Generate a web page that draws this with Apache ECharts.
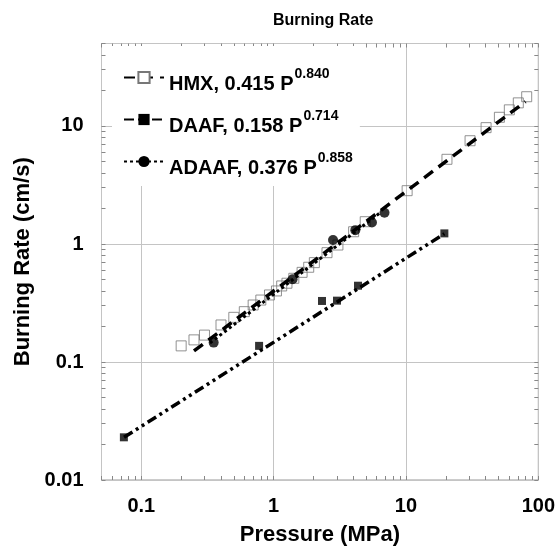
<!DOCTYPE html>
<html><head><meta charset="utf-8">
<script src="https://cdn.jsdelivr.net/npm/echarts@6/dist/echarts.min.js"></script>
<style>html,body{margin:0;padding:0;background:#fff}#c{width:558px;height:551px}</style>
</head><body><div id="c"></div>
<script>
// ---- data ----
const seriesNames = ['HMX', 'DAAF', 'ADAAF'];
const fitCoef = ['0.415', '0.158', '0.376'];
const fitExp = ['0.840', '0.714', '0.858'];

const hmxP = [0.2,0.25,0.3,0.4,0.5,0.6,0.7,0.8,0.93,1.05,1.15,1.26,1.42,1.64,1.84,2.03,2.53,3.06,4.02,4.92,10.2,20.4,30.5,40.3,50.8,60.4,70.6,81.7];
const hmxR = [0.137,0.154,0.169,0.206,0.239,0.267,0.304,0.335,0.370,0.400,0.441,0.465,0.512,0.575,0.635,0.695,0.844,0.98,1.27,1.545,2.83,5.22,7.5,9.68,11.85,13.7,15.7,17.7];
const daafP = [0.0738,0.776,2.32,3.01,4.34,19.5];
const daafR = [0.023,0.137,0.329,0.331,0.443,1.23];
const adaafP = [0.352,1.39,2.81,4.14,5.53,6.88];
const adaafR = [0.146,0.502,1.08,1.31,1.52,1.84];

const hmxFitP = [0.25, 80];
const hmxFitR = [0.124, 16.1];
const daafFitP = [0.074, 19.5];
const daafFitR = [0.023, 1.22];
const adaafFitP = [0.33, 6.5];
const adaafFitR = [0.145, 1.87];

const xDecades = [0.1, 1, 10, 100];
const yDecades = [0.01, 0.1, 1, 10];
const xTickValues = [0.05,0.06,0.07,0.08,0.09,0.1,0.2,0.3,0.4,0.5,0.6,0.7,0.8,0.9,1,2,3,4,5,6,7,8,9,10,20,30,40,50,60,70,80,90,100];
const yTickValues = [0.01,0.02,0.03,0.04,0.05,0.06,0.07,0.08,0.09,0.1,0.2,0.3,0.4,0.5,0.6,0.7,0.8,0.9,1,2,3,4,5,6,7,8,9,10,20,30,40,50];

const zip = (a, b) => a.map((v, i) => [v, b[i]]);
const FONT = '"Liberation Sans", Arial, sans-serif';
const decadeFmt = list => v => { for (const d of list) { if (Math.abs(v / d - 1) < 1e-6) return String(d); } return ''; };

const tickAxis = (pos, min, max, ticks) => ({
  type: 'log', position: pos, min: min, max: max, gridIndex: 0,
  axisLine: {show: false}, axisLabel: {show: false}, splitLine: {show: false},
  axisTick: {show: true, inside: true, length: 4, customValues: ticks, lineStyle: {color: '#888', width: 1}}
});

const chart = echarts.init(document.getElementById('c'), null, {renderer: 'canvas'});
chart.setOption({
  backgroundColor: '#fff',
  animation: false,
  title: {
    text: 'Burning Rate', left: 268, top: 8,
    textStyle: {fontFamily: FONT, fontSize: 16, fontWeight: 'bold', color: '#000'}
  },
  grid: {left: 101.5, right: 19.5, top: 43.5, bottom: 71, show: true, borderColor: '#999', borderWidth: 1, backgroundColor: 'transparent'},
  xAxis: [
    {
      type: 'log', min: 0.05, max: 100, position: 'bottom',
      name: 'Pressure (MPa)', nameLocation: 'middle', nameGap: 44,
      nameTextStyle: {fontFamily: FONT, fontSize: 22, fontWeight: 'bold', color: '#000'},
      axisLine: {show: false}, axisTick: {show: false},
      axisLabel: {formatter: decadeFmt(xDecades), margin: 16, fontFamily: FONT, fontSize: 20, fontWeight: 'bold', color: '#000', showMinLabel: true, showMaxLabel: true},
      splitLine: {show: true, lineStyle: {color: '#c4c4c4', width: 1}}
    },
    tickAxis('bottom', 0.05, 100, xTickValues),
    tickAxis('top', 0.05, 100, xTickValues)
  ],
  yAxis: [
    {
      type: 'log', min: 0.01, max: 50, position: 'left',
      name: 'Burning Rate (cm/s)', nameLocation: 'middle', nameGap: 68, nameRotate: 90,
      nameTextStyle: {fontFamily: FONT, fontSize: 22, fontWeight: 'bold', color: '#000'},
      axisLine: {show: false}, axisTick: {show: false},
      axisLabel: {formatter: decadeFmt(yDecades), margin: 18, fontFamily: FONT, fontSize: 20, fontWeight: 'bold', color: '#000'},
      splitLine: {show: true, lineStyle: {color: '#c4c4c4', width: 1}}
    },
    tickAxis('left', 0.01, 50, yTickValues),
    tickAxis('right', 0.01, 50, yTickValues)
  ],
  legend: {
    data: seriesNames,
    orient: 'vertical', left: 112, top: 46,
    padding: [15, 7, 8, 11],
    itemWidth: 40, itemHeight: 14, itemGap: 9,
    backgroundColor: '#fff',
    formatter: name => {
      const i = seriesNames.indexOf(name);
      return '{m|' + name + ', ' + fitCoef[i] + ' P}{s|' + fitExp[i] + '}';
    },
    textStyle: {
      fontFamily: FONT, color: '#000',
      rich: {
        m: {fontFamily: FONT, fontSize: 20, fontWeight: 'bold', color: '#000', lineHeight: 22, padding: [13, 0, 0, 0]},
        s: {fontFamily: FONT, fontSize: 14, fontWeight: 'bold', color: '#000', lineHeight: 16, padding: [6, 0, 13, 1]}
      }
    }
  },
  series: [
    {
      name: '_hmxPts', type: 'scatter', z: 1, data: zip(hmxP, hmxR),
      symbol: 'rect', symbolSize: 10,
      itemStyle: {color: 'rgba(255,255,255,0)', borderColor: '#777', borderWidth: 1}
    },
    {
      name: 'HMX', type: 'line', z: 2, data: zip(hmxFitP, hmxFitR),
      symbol: 'rect', showSymbol: false, symbolSize: 10,
      itemStyle: {color: '#fff', borderColor: '#777', borderWidth: 1},
      lineStyle: {color: '#000', width: 3.5, type: [11, 7]}
    },
    {
      name: 'DAAF', type: 'line', z: 2, data: zip(daafFitP, daafFitR),
      symbol: 'rect', showSymbol: false, symbolSize: 8,
      itemStyle: {color: '#000'},
      lineStyle: {color: '#000', width: 3.5, type: [10, 4, 3, 4, 3, 4]}
    },
    {
      name: 'ADAAF', type: 'line', z: 2, data: zip(adaafFitP, adaafFitR),
      symbol: 'circle', showSymbol: false, symbolSize: 10,
      itemStyle: {color: '#000'},
      lineStyle: {color: '#000', width: 3, type: [3, 3]}
    },
    {
      name: '_daafPts', type: 'scatter', z: 3, data: zip(daafP, daafR),
      symbol: 'rect', symbolSize: 8, itemStyle: {color: '#000'}
    },
    {
      name: '_adaafPts', type: 'scatter', z: 3, data: zip(adaafP, adaafR),
      symbol: 'circle', symbolSize: 10, itemStyle: {color: '#000'}
    }
  ]
});
</script>
</body></html>
